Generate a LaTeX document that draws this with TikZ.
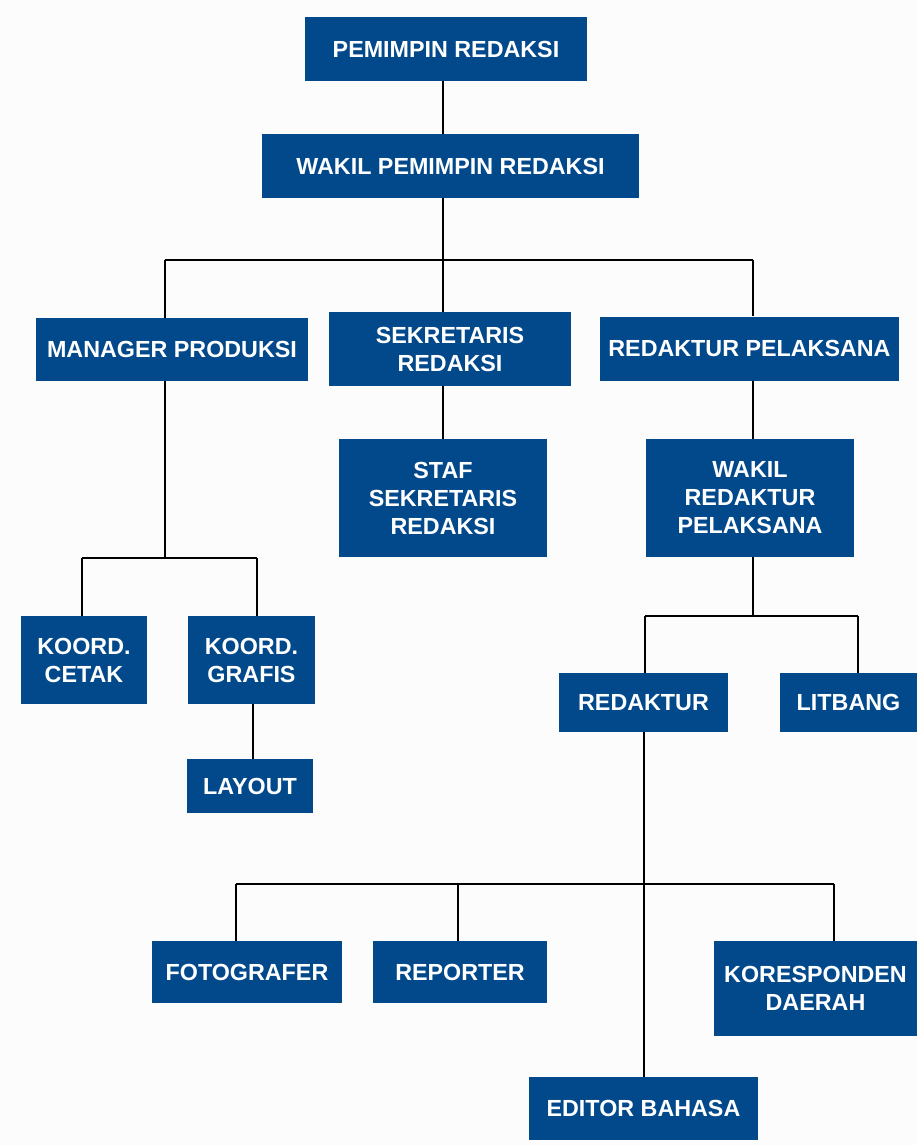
\documentclass[tikz,border=0pt]{standalone}
\usepackage{fontspec}
\setmainfont{Liberation Sans}
\definecolor{boxblue}{RGB}{2,73,140}
\definecolor{bgcol}{RGB}{252,252,252}
\begin{document}
\begin{tikzpicture}[x=1pt,y=-1pt,
  box/.style={fill=boxblue, text=white, align=center, inner sep=0pt,
    font=\fontsize{23.3}{28}\selectfont\bfseries},
  conn/.style={draw=black, line width=2pt}]
\fill[bgcol] (0,0) rectangle (917,1145);
\useasboundingbox (0,0) rectangle (917,1145);
% nodes
\node[box, minimum width=282, minimum height=64] (pr) at (446,49) {PEMIMPIN REDAKSI};
\node[box, minimum width=377, minimum height=64] (wpr) at (450.5,166) {WAKIL PEMIMPIN REDAKSI};
\node[box, minimum width=272, minimum height=63] (mp) at (172,349.5) {MANAGER PRODUKSI};
\node[box, minimum width=242, minimum height=74] (sr) at (450,349) {SEKRETARIS\\REDAKSI};
\node[box, minimum width=299, minimum height=64] (rp) at (749.5,348.5) {REDAKTUR PELAKSANA};
\node[box, minimum width=208, minimum height=118] (ssr) at (443,498) {STAF\\SEKRETARIS\\REDAKSI};
\node[box, minimum width=208, minimum height=118] (wrp) at (750,498) {WAKIL\\REDAKTUR\\PELAKSANA};
\node[box, minimum width=126, minimum height=88] (kc) at (84,660) {KOORD.\\CETAK};
\node[box, minimum width=127, minimum height=88] (kg) at (251.5,660) {KOORD.\\GRAFIS};
\node[box, minimum width=126, minimum height=54] (lay) at (250,786) {LAYOUT};
\node[box, minimum width=169, minimum height=59] (red) at (643.5,702.5) {REDAKTUR};
\node[box, minimum width=137, minimum height=59] (lit) at (848.5,702.5) {LITBANG};
\node[box, minimum width=190, minimum height=62] (foto) at (247,972) {FOTOGRAFER};
\node[box, minimum width=174, minimum height=62] (rep) at (460,972) {REPORTER};
\node[box, minimum width=203, minimum height=95] (kor) at (815.5,988.5) {KORESPONDEN\\DAERAH};
\node[box, minimum width=229, minimum height=63] (ed) at (643.5,1108.5) {EDITOR BAHASA};
% junction coordinates
\coordinate (j1) at (443,260);
\coordinate (j1l) at (165,260);
\coordinate (j1r) at (753,260);
\coordinate (j2) at (165,558);
\coordinate (j2l) at (82,558);
\coordinate (j2r) at (257,558);
\coordinate (j3) at (753,616);
\coordinate (j3l) at (645,616);
\coordinate (j3r) at (858,616);
\coordinate (j4) at (644,884);
\coordinate (j4l) at (236,884);
\coordinate (j4m) at (458,884);
\coordinate (j4r) at (834,884);
% connectors
\draw[conn] (pr.south -| j1) -- (wpr.north -| j1);
\draw[conn] (wpr.south -| j1) -- (sr.north -| j1);
\draw[conn] (j1l) -- (j1r);
\draw[conn] (j1l) -- (mp.north -| j1l);
\draw[conn] (j1r) -- (rp.north -| j1r);
\draw[conn] (sr.south -| j1) -- (ssr.north -| j1);
\draw[conn] (mp.south -| j2) -- (j2);
\draw[conn] (j2l) -- (j2r);
\draw[conn] (j2l) -- (kc.north -| j2l);
\draw[conn] (j2r) -- (kg.north -| j2r);
\draw[conn] (kg.south -| 253,0) -- (lay.north -| 253,0);
\draw[conn] (rp.south -| j3) -- (wrp.north -| j3);
\draw[conn] (wrp.south -| j3) -- (j3);
\draw[conn] (j3l) -- (j3r);
\draw[conn] (j3l) -- (red.north -| j3l);
\draw[conn] (j3r) -- (lit.north -| j3r);
\draw[conn] (red.south -| j4) -- (ed.north -| j4);
\draw[conn] (j4l) -- (j4r);
\draw[conn] (j4l) -- (foto.north -| j4l);
\draw[conn] (j4m) -- (rep.north -| j4m);
\draw[conn] (j4r) -- (kor.north -| j4r);
\end{tikzpicture}
\end{document}
